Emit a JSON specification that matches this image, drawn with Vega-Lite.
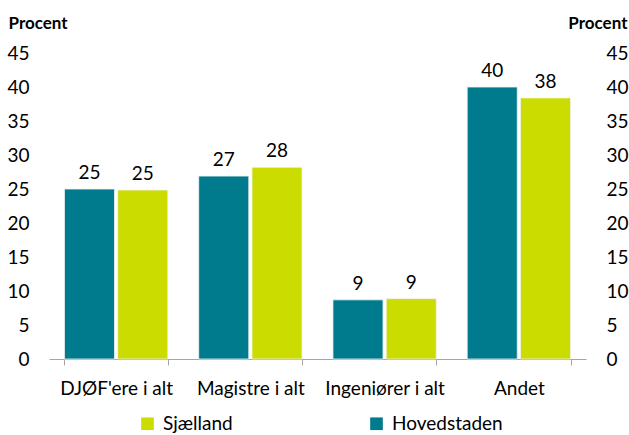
{
  "$schema": "https://vega.github.io/schema/vega-lite/v6.json",
  "autosize": "none",
  "width": 537,
  "height": 306,
  "padding": {"left": 49, "top": 53, "right": 43, "bottom": 76},
  "background": "white",
  "config": {
    "view": {"stroke": null},
    "font": "Lato",
    "axis": {"labelFont": "Lato", "titleFont": "Lato", "labelColor": "#000000", "titleColor": "#000000"},
    "legend": {"labelFont": "Lato"}
  },
  "data": {
    "values": [
      {"kategori": "DJØF'ere i alt", "region": "Hovedstaden", "procent": 25.0, "label": "25"},
      {"kategori": "DJØF'ere i alt", "region": "Sjælland", "procent": 24.85, "label": "25"},
      {"kategori": "Magistre i alt", "region": "Hovedstaden", "procent": 26.9, "label": "27"},
      {"kategori": "Magistre i alt", "region": "Sjælland", "procent": 28.2, "label": "28"},
      {"kategori": "Ingeniører i alt", "region": "Hovedstaden", "procent": 8.7, "label": "9"},
      {"kategori": "Ingeniører i alt", "region": "Sjælland", "procent": 8.87, "label": "9"},
      {"kategori": "Andet", "region": "Hovedstaden", "procent": 40.0, "label": "40"},
      {"kategori": "Andet", "region": "Sjælland", "procent": 38.4, "label": "38"}
    ]
  },
  "encoding": {
    "x": {
      "field": "kategori", "type": "nominal",
      "sort": ["DJØF'ere i alt", "Magistre i alt", "Ingeniører i alt", "Andet"],
      "scale": {"paddingInner": 0.23, "paddingOuter": 0.115},
      "axis": {
        "title": null, "labelAngle": 0, "labelFontSize": 19, "labelPadding": 14,
        "domainColor": "#A6A6A6", "tickColor": "#A6A6A6", "tickSize": 6,
        "tickBand": "extent", "grid": false
      }
    },
    "xOffset": {
      "field": "region", "type": "nominal",
      "sort": ["Hovedstaden", "Sjælland"],
      "scale": {"paddingInner": 0.06, "paddingOuter": 0}
    }
  },
  "layer": [
    {
      "mark": {"type": "bar", "stroke": "#F2F2F2", "strokeWidth": 0.8},
      "encoding": {
        "y": {
          "field": "procent", "type": "quantitative",
          "scale": {"domain": [0, 45], "nice": false},
          "axis": {
            "orient": "left", "values": [0, 5, 10, 15, 20, 25, 30, 35, 40, 45],
            "grid": false, "domain": false, "ticks": false,
            "labelFontSize": 19, "labelPadding": 20,
            "title": "Procent", "titleAngle": 0, "titleFontSize": 17, "titleFontWeight": "bold",
            "titleAlign": "left", "titleBaseline": "middle", "titleX": -41, "titleY": -30
          }
        },
        "color": {
          "field": "region", "type": "nominal",
          "scale": {"domain": ["Sjælland", "Hovedstaden"], "range": ["#CBDC00", "#007B8E"]},
          "legend": {
            "title": null, "orient": "none", "direction": "horizontal", "columns": 2,
            "legendX": 89, "legendY": 361,
            "symbolType": "square", "symbolSize": 160, "symbolStrokeWidth": 0,
            "labelFontSize": 19, "labelOffset": 6, "columnPadding": 134
          }
        }
      }
    },
    {
      "mark": {"type": "text", "baseline": "alphabetic", "dy": -10, "fontSize": 19, "color": "#000000"},
      "encoding": {
        "y": {
          "field": "procent", "type": "quantitative",
          "axis": {
            "orient": "right", "values": [0, 5, 10, 15, 20, 25, 30, 35, 40, 45],
            "grid": false, "domain": false, "ticks": false,
            "labelFontSize": 19, "labelPadding": 20,
            "title": "Procent", "titleAngle": 0, "titleFontSize": 17, "titleFontWeight": "bold",
            "titleAlign": "right", "titleBaseline": "middle", "titleX": 41, "titleY": -30
          }
        },
        "text": {"field": "label"}
      }
    }
  ],
  "resolve": {"axis": {"y": "independent"}}
}
